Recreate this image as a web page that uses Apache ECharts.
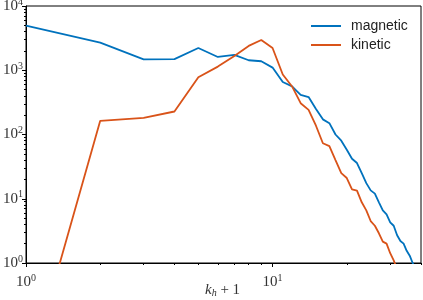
<!DOCTYPE html>
<html><head><meta charset="utf-8">
<script src="https://cdn.jsdelivr.net/npm/echarts@6/dist/echarts.min.js"></script>
<style>html,body{margin:0;padding:0;background:#fff}#c{width:423px;height:300px}</style>
</head><body><div id="c"></div>
<script>
const kValues = [1,2,3,4,5,6,7,8,9,10,11,12,13,14,15,16,17,18,19,20,21,22,23,24,25,26,27,28,29,30,31,32,33,34,35,36,37,38,39,40];
const magnetic = [4940,2690,1480,1490,2220,1610,1730,1430,1380,1100,655,560,413,383,250,172,150,100,80,58,42,36,25,17.5,13.5,12,8.8,6.6,5.7,4.3,3.8,2.7,2.2,2.0,1.55,1.3,1.0,0.8,0.6,0.45];
const kinetic = [0.014,163,181,228,778,1140,1670,2390,2960,2220,860,560,307,242,137,73,66,40,25,21,14,13.4,8.8,6.6,4.5,3.8,2.9,2.15,2.0,1.42,1.1,0.8,0.6,0.45,0.35,0.25,0.2,0.15,0.1,0.08];
const seriesNames = ['magnetic','kinetic'];
const seriesColors = ['#0072BD','#D95319'];
const xAxisTitle = '{i|k}{sub|h}{n| + 1}';
const xMajorTicks = [1,10];
const xMinorTicks = [2,3,4,5,6,7,8,9,20,30,40];
const yMajorTicks = [1,10,100,1000,10000];
const yMinorTicks = [2,3,4,5,6,7,8,9,20,30,40,50,60,70,80,90,200,300,400,500,600,700,800,900,2000,3000,4000,5000,6000,7000,8000,9000];
const xMin = 1, xMax = 40, yMin = 1, yMax = 10000;

const serif = 'Liberation Serif';
const powLabel = v => '{b|10}{s|' + Math.round(Math.log10(v)) + '}';
const labelRich = {
  b: {fontFamily: serif, fontSize: 15, color: '#333'},
  s: {fontFamily: serif, fontSize: 10, color: '#333', padding: [0,0,8,0]}
};

const chart = echarts.init(document.getElementById('c'), null, {renderer: 'canvas'});
chart.setOption({
  animation: false,
  backgroundColor: '#fff',
  title: {
    text: xAxisTitle, left: 205, top: 282, padding: 0,
    textStyle: {fontWeight: 'normal', rich: {
      i: {fontFamily: serif, fontStyle: 'italic', fontWeight: 'normal', fontSize: 15, color: '#333'},
      sub: {fontFamily: serif, fontStyle: 'italic', fontWeight: 'normal', fontSize: 10, color: '#333', padding: [6,0,0,0]},
      n: {fontFamily: serif, fontWeight: 'normal', fontSize: 15, color: '#333'}
    }}
  },
  grid: {left: 26, right: 2, top: 6, bottom: 37, show: true, borderColor: '#000', borderWidth: 1,
         containLabel: false, outerBoundsMode: 'none'},
  legend: {
    orient: 'vertical', left: 311, top: 19, padding: 0, itemGap: 5,
    itemWidth: 30, itemHeight: 2, icon: 'rect',
    textStyle: {fontFamily: 'Liberation Sans', fontSize: 14, color: '#222', padding: [0,0,0,5]},
    data: seriesNames
  },
  xAxis: [{
    type: 'log', logBase: 10, min: xMin, max: xMax, gridIndex: 0,
    axisLine: {show: true, lineStyle: {color: '#000', width: 1}},
    axisTick: {show: true, length: 4, customValues: xMajorTicks, lineStyle: {color: '#000'}},
    axisLabel: {customValues: xMajorTicks, formatter: powLabel, rich: labelRich, margin: 10},
    splitLine: {show: false}
  }, {
    type: 'log', logBase: 10, min: xMin, max: xMax, gridIndex: 0, position: 'bottom',
    axisLine: {show: false},
    axisTick: {show: true, length: 2, customValues: xMinorTicks, lineStyle: {color: '#000'}},
    axisLabel: {show: false}, splitLine: {show: false}
  }],
  yAxis: [{
    type: 'log', logBase: 10, min: yMin, max: yMax, gridIndex: 0,
    axisLine: {show: true, lineStyle: {color: '#000', width: 1}},
    axisTick: {show: true, length: 4, customValues: yMajorTicks, lineStyle: {color: '#000'}},
    axisLabel: {customValues: yMajorTicks, formatter: powLabel, rich: labelRich, margin: 3},
    splitLine: {show: false}
  }, {
    type: 'log', logBase: 10, min: yMin, max: yMax, gridIndex: 0, position: 'left',
    axisLine: {show: false},
    axisTick: {show: true, length: 2, customValues: yMinorTicks, lineStyle: {color: '#000'}},
    axisLabel: {show: false}, splitLine: {show: false}
  }],
  series: seriesNames.map((name, s) => ({
    name, type: 'line', xAxisIndex: 0, yAxisIndex: 0, symbol: 'none', clip: true,
    lineStyle: {color: seriesColors[s], width: 1.8}, itemStyle: {color: seriesColors[s]},
    data: kValues.map((k, i) => [k, (s === 0 ? magnetic : kinetic)[i]])
  }))
});
</script></body></html>
